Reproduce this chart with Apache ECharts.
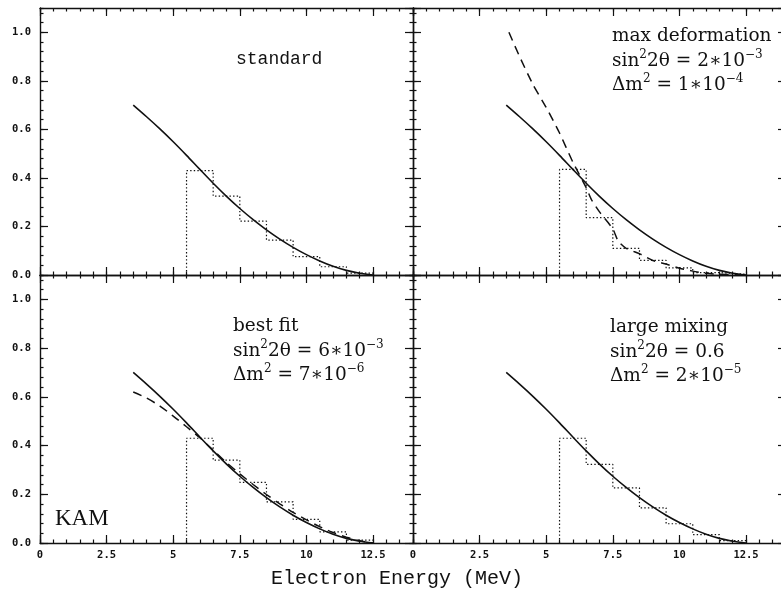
<!DOCTYPE html>
<html>
<head>
<meta charset="utf-8">
<script src="https://cdn.jsdelivr.net/npm/echarts@6/dist/echarts.min.js"></script>
<style>html,body{margin:0;padding:0;background:#fff}#main{width:781px;height:593px}</style>
</head>
<body>
<div id="main"></div>
<script>
// energies (MeV) at which the smooth curves were read
var curveE = [3.5, 4, 4.5, 5, 5.5, 6, 6.5, 7, 7.5, 8, 8.5, 9, 9.5, 10, 10.5, 11, 11.5, 12, 12.5];
var standardY = [0.70, 0.652, 0.602, 0.549, 0.493, 0.435, 0.378, 0.324, 0.274, 0.228, 0.186, 0.148, 0.114, 0.084, 0.058, 0.036, 0.019, 0.007, 0];
var bestFitY = [0.62, 0.595, 0.562, 0.521, 0.477, 0.432, 0.381, 0.33, 0.284, 0.24, 0.199, 0.161, 0.126, 0.095, 0.067, 0.043, 0.024, 0.009, 0];
// max deformation dashed curve
var maxDefE = [3.6, 4, 4.5, 5, 5.5, 6, 6.5, 6.7, 7, 7.5, 7.7, 8, 8.5, 9, 9.5, 10, 10.5, 11, 11.5, 12.5];
var maxDefY = [1.0, 0.9, 0.785, 0.69, 0.585, 0.465, 0.36, 0.31, 0.26, 0.19, 0.14, 0.11, 0.088, 0.06, 0.045, 0.028, 0.016, 0.007, 0.003, 0];

// 1 MeV bins (dotted histograms)
var binEdges = [5.5, 6.5, 7.5, 8.5, 9.5, 10.5, 11.5, 12.5];
var histStandard = [0.43, 0.325, 0.222, 0.144, 0.076, 0.034, 0.008];
var histMaxDef = [0.435, 0.236, 0.11, 0.06, 0.029, 0.01, 0.003];
var histBestFit = [0.43, 0.34, 0.249, 0.169, 0.097, 0.046, 0.012];
var histLargeMix = [0.43, 0.323, 0.226, 0.144, 0.079, 0.034, 0.01];

var ink = '#111';
var chart = echarts.init(document.getElementById('main'));

var grids = [
  {left: 40, top: 8, width: 373, height: 267},
  {left: 413, top: 8, width: 373, height: 267},
  {left: 40, top: 275, width: 373, height: 268},
  {left: 413, top: 275, width: 373, height: 268}
];
grids.forEach(function (g) { g.outerBoundsMode = 'none'; g.containLabel = false; });

function axis(isX, g, pos, major, labels) {
  return {
    type: 'value', gridIndex: g, position: pos,
    min: 0, max: isX ? 14 : 1.1,
    interval: major ? (isX ? 2.5 : 0.2) : (isX ? 0.5 : 0.04),
    axisLine: {show: major, onZero: false, lineStyle: {color: ink, width: 1.4}},
    axisTick: {show: true, inside: true, length: major ? 8 : 3.5, lineStyle: {color: ink, width: 1.2}},
    axisLabel: {
      show: !!labels, showMaxLabel: false, margin: isX ? 7 : 9,
      fontFamily: 'DejaVu Sans Mono', fontWeight: 'bold', fontSize: 10.5, color: ink,
      formatter: isX ? null : function (v) { return v.toFixed(1); }
    },
    splitLine: {show: false}
  };
}

var xAxes = [], yAxes = [];
for (var g = 0; g < 4; g++) {
  var bottomRow = g >= 2, leftCol = g % 2 === 0;
  xAxes.push(axis(true, g, 'bottom', true, bottomRow));
  xAxes.push(axis(true, g, 'bottom', false));
  xAxes.push(axis(true, g, 'top', true));
  xAxes.push(axis(true, g, 'top', false));
  yAxes.push(axis(false, g, 'left', true, leftCol));
  yAxes.push(axis(false, g, 'left', false));
  yAxes.push(axis(false, g, 'right', true));
  yAxes.push(axis(false, g, 'right', false));
}

function pairs(xs, ys) { return xs.map(function (x, i) { return [x, ys[i]]; }); }
function histPoints(h) {
  var pts = [[binEdges[0], 0]];
  for (var i = 0; i < h.length; i++) {
    pts.push([binEdges[i], h[i]]);
    pts.push([binEdges[i + 1], h[i]]);
  }
  return pts;
}
function line(g, data, type, width, smooth) {
  return {
    type: 'line', xAxisIndex: g * 4, yAxisIndex: g * 4, data: data,
    symbol: 'none', smooth: smooth || false, silent: true,
    lineStyle: {color: ink, width: width, type: type}
  };
}

var dotted = [1.4, 2.2], dashed = [9, 6];
var series = [
  line(0, histPoints(histStandard), dotted, 1.2),
  line(0, pairs(curveE, standardY), 'solid', 1.6, 0.3),
  line(1, histPoints(histMaxDef), dotted, 1.2),
  line(1, pairs(curveE, standardY), 'solid', 1.6, 0.3),
  line(1, pairs(maxDefE, maxDefY), dashed, 1.5, 0.2),
  line(2, histPoints(histBestFit), dotted, 1.2),
  line(2, pairs(curveE, standardY), 'solid', 1.6, 0.3),
  line(2, pairs(curveE, bestFitY), dashed, 1.5, 0.3),
  line(3, histPoints(histLargeMix), dotted, 1.2),
  line(3, pairs(curveE, standardY), 'solid', 1.6, 0.3)
];

var serif = 'DejaVu Serif';
var noteRich = {
  s: {fontFamily: serif, fontSize: 12, lineHeight: 12, verticalAlign: 'top', fill: ink}
};
function note(x, y, text) {
  return {
    type: 'text', x: x, y: y, silent: true,
    style: {text: text, fontFamily: serif, fontSize: 18.5, lineHeight: 24.5,
      fill: ink, textVerticalAlign: 'top', rich: noteRich}
  };
}

var graphic = [
  {type: 'text', x: 236, y: 50, style: {text: 'standard', fontFamily: 'Liberation Mono', fontSize: 18, fill: ink}},
  note(612, 24, 'max deformation\nsin{s|2}2θ = 2∗10{s|−3}\nΔm{s|2} = 1∗10{s|−4}'),
  note(233, 314, 'best fit\nsin{s|2}2θ = 6∗10{s|−3}\nΔm{s|2} = 7∗10{s|−6}'),
  note(610, 315, 'large mixing\nsin{s|2}2θ = 0.6\nΔm{s|2} = 2∗10{s|−5}'),
  {type: 'text', x: 55, y: 507, style: {text: 'KAM', fontFamily: 'Liberation Serif', fontSize: 23, fill: ink}},
  {type: 'text', x: 397, y: 569, style: {text: 'Electron Energy (MeV)', fontFamily: 'Liberation Mono', fontSize: 20, fill: ink, textAlign: 'center'}}
];

chart.setOption({
  animation: false,
  backgroundColor: '#fff',
  grid: grids,
  xAxis: xAxes,
  yAxis: yAxes,
  series: series,
  graphic: graphic
});
</script>
</body>
</html>
